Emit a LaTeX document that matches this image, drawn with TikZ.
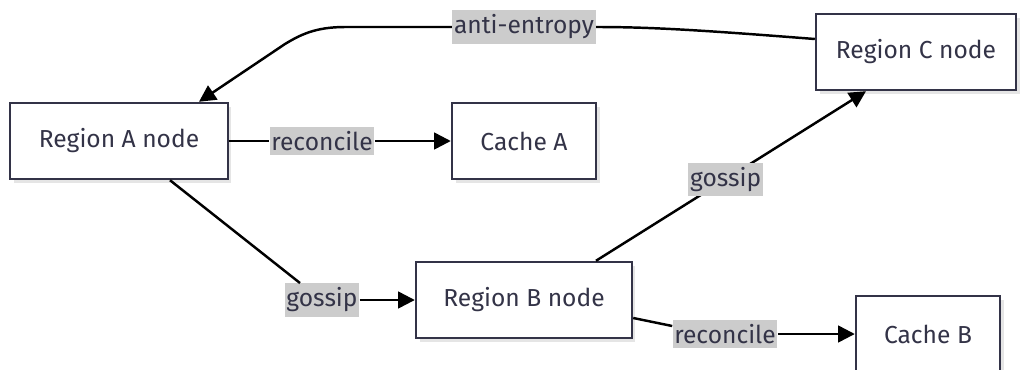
\documentclass[tikz,border=0pt]{standalone}
\usepackage{fontspec}
\setmainfont{Fira Sans}
\usetikzlibrary{arrows.meta,shadows}
\definecolor{ink}{HTML}{333347}
\definecolor{tagbg}{HTML}{CCCCCC}
\tikzset{
  region/.style={draw=ink, line width=1.4pt, fill=white, text=ink,
    minimum height=1.52cm, font=\fontsize{14}{16}\selectfont,
    drop shadow={shadow xshift=2pt, shadow yshift=-2pt, fill=black!10, opacity=1}},
  tag/.style={fill=tagbg, text=ink, inner xsep=1pt, inner ysep=2.5pt,
    font=\fontsize{14}{16}\selectfont},
  wire/.style={line width=1.4pt},
  flow/.style={wire, -{Triangle[length=9.5pt,width=9.5pt]}}
}
\begin{document}
\begin{tikzpicture}[x=0.02cm, y=-0.02cm]
      \useasboundingbox (0,0) rectangle (1028,369);
      % boxes
      \node[region, minimum width=4.36cm] (ra) at (119,141) {Region A node};
      \node[region, minimum width=2.88cm] (ca) at (524,141) {Cache A};
      \node[region, minimum width=4cm] (rc) at (916,52) {Region C node};
      \node[region, minimum width=4.32cm] (rb) at (524,300) {Region B node};
      \node[region, minimum width=2.88cm] (cb) at (928,334) {Cache B};
      % labels
      \node[tag] (antient) at (524,27) {anti-entropy};
      \node[tag] (recA) at (322,141) {reconcile};
      \node[tag] (gossAB) at (322,300) {gossip};
      \node[tag] (recB) at (725,334) {reconcile};
      % connectors
      \draw[wire] ([yshift=0.26cm]rc.west) .. controls (700,30) and (650,27) .. (antient.east);
      \draw[flow] (antient.west) -- (345,27) .. controls (315,27) and (300,35) .. (285,44) -- ([xshift=1.6cm]ra.north);
      \draw[wire] (ra.east) -- (recA.west);
      \draw[flow] (recA.east) -- (ca.west);
      \draw[wire] ([xshift=1.02cm]ra.south) -- ([xshift=-0.44cm]gossAB.north);
      \draw[flow] (gossAB.east) -- (rb.west);
      \draw[flow] ([xshift=1.44cm]rb.north) -- node[tag, pos=0.48] (gossBC) {gossip} ([xshift=-1cm]rc.south);
      \draw[wire] ([yshift=-0.36cm]rb.east) -- ([yshift=0.16cm]recB.west);
      \draw[flow] (recB.east) -- (cb.west);
\end{tikzpicture}
\end{document}
